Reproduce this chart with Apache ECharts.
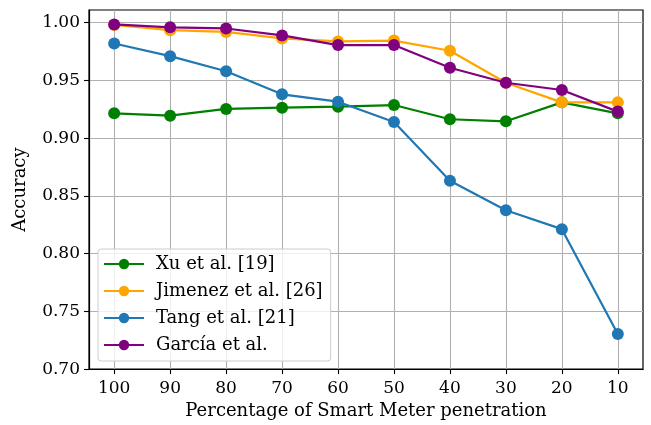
<!DOCTYPE html>
<html>
<head>
<meta charset="utf-8">
<script src="https://cdn.jsdelivr.net/npm/echarts@6/dist/echarts.min.js"></script>
<style>
html,body{margin:0;padding:0;background:#fff;}
#chart{width:651px;height:425px;}
</style>
</head>
<body>
<div id="chart"></div>
<script>
const penetration = [100, 90, 80, 70, 60, 50, 40, 30, 20, 10];
const xu      = [0.9215, 0.9195, 0.9253, 0.9264, 0.9273, 0.9287, 0.9164, 0.9146, 0.9310, 0.9215];
const jimenez = [0.9980, 0.9935, 0.9920, 0.9864, 0.9838, 0.9845, 0.9757, 0.9480, 0.9310, 0.9310];
const tang    = [0.9820, 0.9710, 0.9580, 0.9380, 0.9316, 0.9140, 0.8632, 0.8376, 0.8212, 0.7304];
const garcia  = [0.9985, 0.9960, 0.9950, 0.9890, 0.9806, 0.9806, 0.9610, 0.9480, 0.9417, 0.9230];
const seriesNames = ['Xu et al. [19]', 'Jimenez et al. [26]', 'Tang et al. [21]', 'García et al.'];
const yTicks = [0.70, 0.75, 0.80, 0.85, 0.90, 0.95, 1.00];

const colors = ['#008000', '#FFA500', '#1f77b4', '#800080'];
const dataSets = [xu, jimenez, tang, garcia];
const FONT = 'DejaVu Serif';

const chart = echarts.init(document.getElementById('chart'), null, {renderer: 'canvas'});
chart.setOption({
  animation: false,
  backgroundColor: '#ffffff',
  color: colors,
  grid: {
    left: 89, right: 8, top: 10, bottom: 54,
    show: true, borderColor: '#000', borderWidth: 1.2, backgroundColor: 'transparent'
  },
  legend: {
    orient: 'vertical',
    left: 98, top: 249,
    data: seriesNames,
    itemWidth: 40, itemHeight: 13,
    itemGap: 9,
    padding: [6, 8, 7, 5],
    backgroundColor: 'rgba(255,255,255,0.8)',
    borderColor: '#cccccc', borderWidth: 1, borderRadius: 3,
    textStyle: {fontFamily: FONT, fontSize: 18, color: '#000', padding: [0, 0, 0, 7]}
  },
  xAxis: {
    type: 'value',
    inverse: true,
    min: 5.5, max: 104.5,
    name: 'Percentage of Smart Meter penetration',
    nameLocation: 'middle', nameGap: 32,
    nameTextStyle: {fontFamily: FONT, fontSize: 18, color: '#000'},
    axisLine: {show: true, onZero: false, lineStyle: {color: '#000', width: 1.2}},
    axisTick: {show: true, length: 5, lineStyle: {color: '#000', width: 1.1}, customValues: penetration},
    axisLabel: {fontFamily: FONT, fontSize: 17, color: '#000', margin: 11, customValues: penetration},
    splitLine: {show: true, lineStyle: {color: '#b0b0b0', width: 1.1}}
  },
  yAxis: {
    type: 'value',
    min: 0.70, max: 1.011,
    name: 'Accuracy',
    nameLocation: 'middle', nameGap: 60,
    nameTextStyle: {fontFamily: FONT, fontSize: 18, color: '#000'},
    axisLine: {show: true, lineStyle: {color: '#000', width: 1.2}},
    axisTick: {show: true, length: 5, lineStyle: {color: '#000', width: 1.1}, customValues: yTicks},
    axisLabel: {fontFamily: FONT, fontSize: 17, color: '#000', margin: 9, customValues: yTicks,
      formatter: v => v.toFixed(2)},
    splitLine: {show: true, lineStyle: {color: '#b0b0b0', width: 1.1}}
  },
  series: seriesNames.map((name, i) => ({
    name: name,
    type: 'line',
    data: penetration.map((p, j) => [p, dataSets[i][j]]),
    symbol: 'circle',
    symbolSize: 12,
    showSymbol: true,
    lineStyle: {width: 2.2, color: colors[i]},
    itemStyle: {color: colors[i], borderWidth: 0},
    z: 2 + i
  }))
});
</script>
</body>
</html>
